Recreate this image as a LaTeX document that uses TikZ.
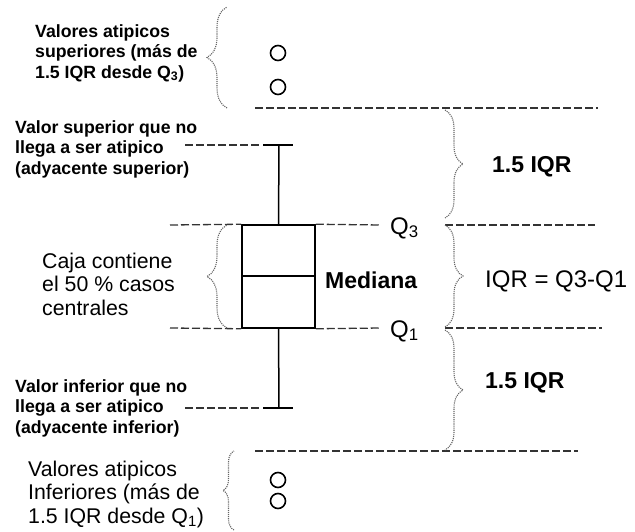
\documentclass[tikz,border=0pt]{standalone}
\usepackage{fontspec}
\setmainfont{Liberation Sans}
\usetikzlibrary{decorations.pathreplacing}
\begin{document}
\begin{tikzpicture}[x=1pt,y=-1pt,
  box/.style={draw, line width=1.5pt, inner sep=0pt},
  whisk/.style={line width=1.5pt},
  guide/.style={line width=1.3pt, black!80, dash pattern=on 8pt off 3pt},
  brc/.style={decorate, decoration={brace, amplitude=#1}, black!60, line width=1.1pt, densely dotted},
  outl/.style={circle, draw, line width=1.6pt, minimum size=15pt, inner sep=0pt},
  smalltxt/.style={inner sep=0pt, align=left, anchor=west, font=\fontsize{17.7}{20.5}\selectfont\bfseries},
  midtxt/.style={inner sep=0pt, align=left, anchor=west, font=\fontsize{21.3}{23.5}\selectfont},
  bigtxt/.style={inner sep=0pt, anchor=west, font=\fontsize{24}{26}\selectfont},
  bigbold/.style={inner sep=0pt, anchor=west, font=\fontsize{23}{26}\selectfont\bfseries}]
\useasboundingbox (0,0) rectangle (635,532);

% box
\node[box, minimum width=73pt, minimum height=103pt] (bx) at (278.5,276.5) {};
\draw[whisk] (bx.west |- 0,276) coordinate (medL) -- (bx.east |- 0,276) coordinate (medR);

% whiskers
\coordinate (capT) at (279,145);
\coordinate (capB) at (279,408);
\coordinate (capTL) at (263,145);
\coordinate (capTR) at (293,145);
\coordinate (capBL) at (263,408);
\coordinate (capBR) at (293,408);
\draw[whisk] (bx.north) -- (capT);
\draw[whisk] (bx.south) -- (capB);
\draw[whisk] (capTL) -- (capTR);
\draw[whisk] (capBL) -- (capBR);

% guide lines
\coordinate (gT1) at (185,145);
\coordinate (gT2) at (259,145);
\coordinate (gB1) at (185,408);
\coordinate (gB2) at (259,408);
\draw[guide] (gT1) -- (gT2);
\draw[guide] (gB1) -- (gB2);
\coordinate (q3L) at (170,225);
\coordinate (q1L) at (170,328);
\draw[guide] (q3L) -- (bx.north west);
\draw[guide] (q1L) -- (bx.south west);
\coordinate (q3R) at (381,225);
\coordinate (q1R) at (381,328);
\draw[guide] (bx.north east) -- (q3R);
\draw[guide] (bx.south east) -- (q1R);
\coordinate (fT1) at (255,108);
\coordinate (fT2) at (598,108);
\draw[guide] (fT1) -- (fT2);
\coordinate (fB1) at (255,451);
\coordinate (fB2) at (578,451);
\draw[guide] (fB1) -- (fB2);
\coordinate (rq3a) at (445,225);
\coordinate (rq3b) at (595,225);
\coordinate (rq1a) at (445,328);
\coordinate (rq1b) at (602,328);
\draw[guide] (rq3a) -- (rq3b);
\draw[guide] (rq1a) -- (rq1b);

% outliers
\node[outl] (o1) at (278,53) {};
\node[outl] (o2) at (278,87) {};
\node[outl] (o3) at (278,480) {};
\node[outl] (o4) at (278,501) {};

% braces
\coordinate (b1a) at (227,108); \coordinate (b1b) at (227,7);
\draw[brc=20pt] (b1a) -- (b1b);
\coordinate (b2a) at (227,328); \coordinate (b2b) at (227,225);
\draw[brc=20pt] (b2a) -- (b2b);
\coordinate (b3a) at (234,530); \coordinate (b3b) at (234,451);
\draw[brc=11pt] (b3a) -- (b3b);
\coordinate (r1a) at (445,110); \coordinate (r1b) at (445,218);
\draw[brc=18pt] (r1a) -- (r1b);
\coordinate (r2a) at (445,225); \coordinate (r2b) at (445,327);
\draw[brc=18pt] (r2a) -- (r2b);
\coordinate (r3a) at (445,330); \coordinate (r3b) at (445,450);
\draw[brc=18pt] (r3a) -- (r3b);

% texts
\node[smalltxt] (t1) at (35,53) {Valores atipicos\\superiores (más de\\1.5 IQR desde Q\textsubscript{3})};
\node[smalltxt] (t2) at (15,149) {Valor superior que no\\llega a ser atipico\\(adyacente superior)};
\node[midtxt] (t3) at (42,284) {Caja contiene\\el 50 \% casos\\centrales};
\node[smalltxt] (t4) at (15,408) {Valor inferior que no\\llega a ser atipico\\(adyacente inferior)};
\node[midtxt] (t5) at (28,494) {Valores atipicos\\Inferiores (más de\\1.5 IQR desde Q\textsubscript{1})};

\node[bigtxt] (q3) at (390,228) {Q\textsubscript{3}};
\node[bigtxt] (q1) at (390,331) {Q\textsubscript{1}};
\node[bigbold] (med) at (325,280) {Mediana};
\node[bigbold] (iqr1) at (492,167) {1.5 IQR};
\node[bigtxt] (iqr) at (485,281) {IQR = Q3-Q1};
\node[bigbold] (iqr2) at (485,383) {1.5 IQR};
\end{tikzpicture}
\end{document}
